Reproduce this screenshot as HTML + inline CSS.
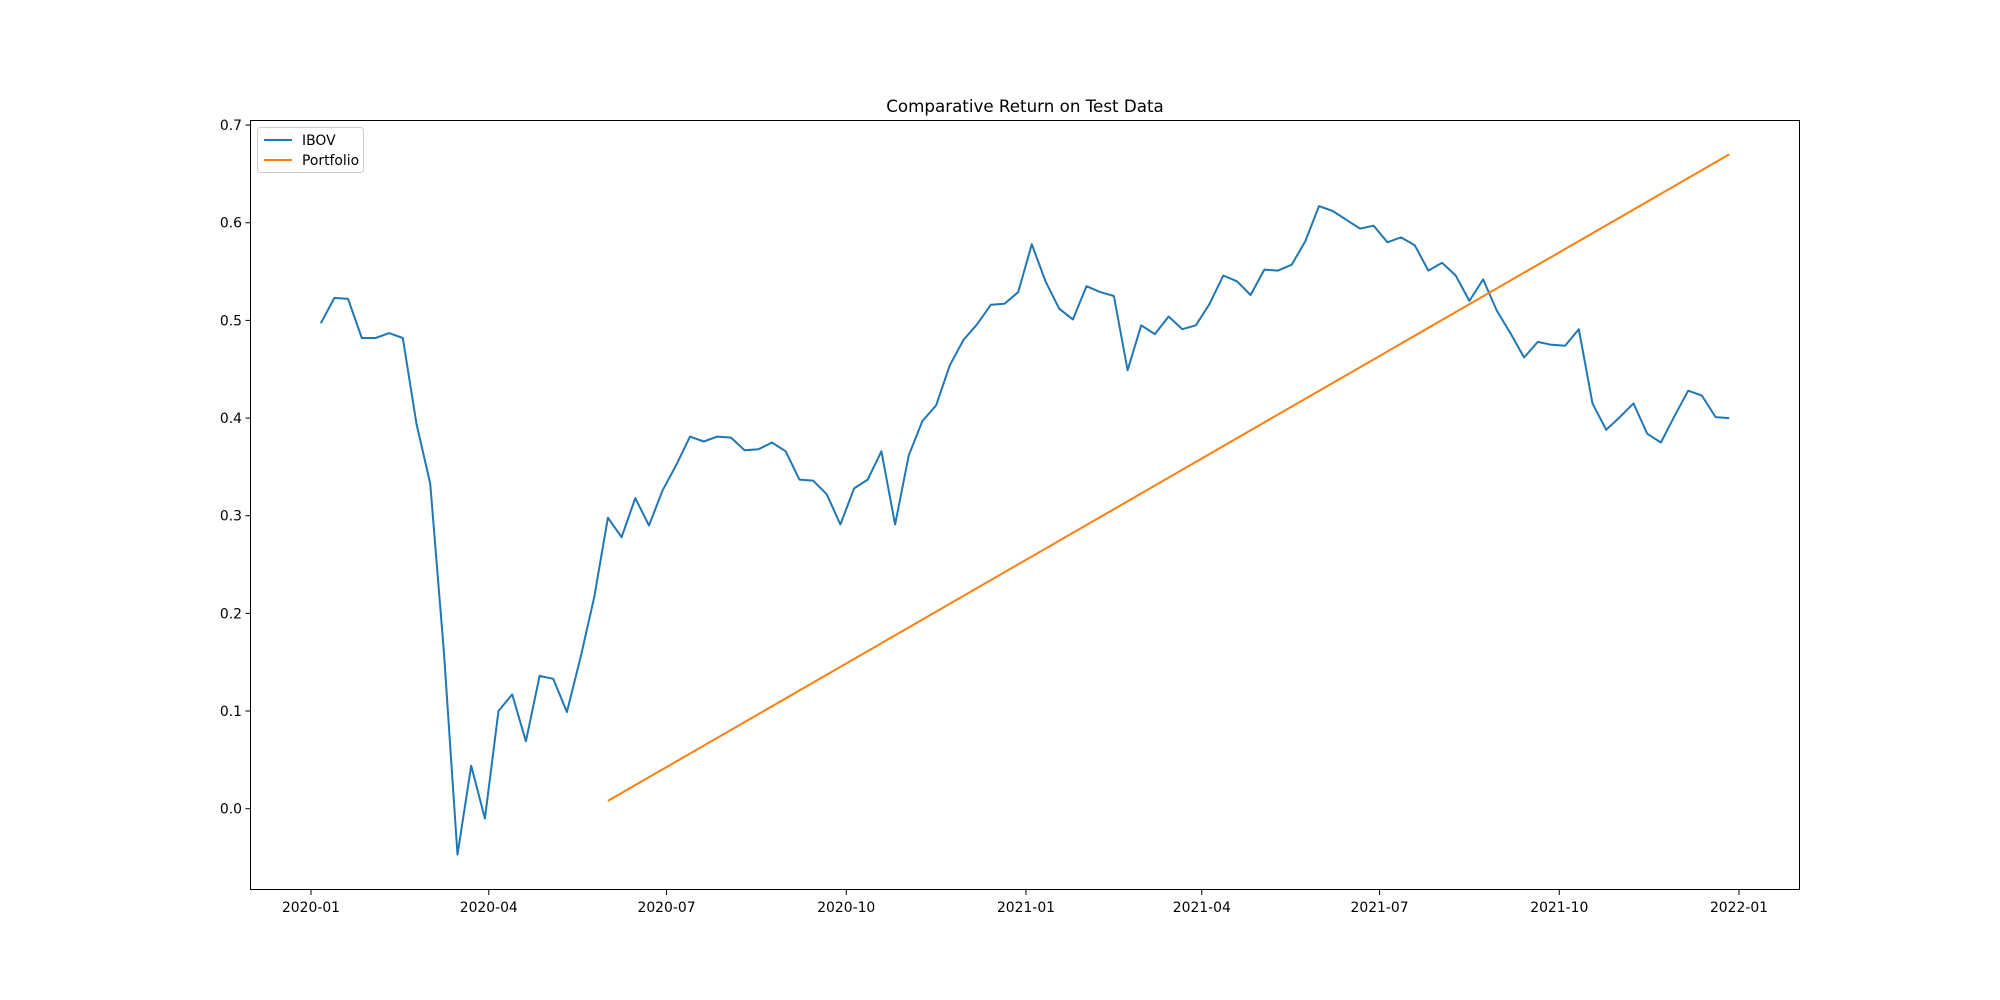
<!DOCTYPE html>
<html><head><meta charset="utf-8"><style>
body{margin:0;background:#fff}
svg{display:block;font-family:"DejaVu Sans","Liberation Sans",sans-serif}
</style></head><body>
<svg id="chart" width="2000" height="1000">
<rect width="2000" height="1000" fill="#fff"/>
<text x="1025" y="112" font-size="16.7" text-anchor="middle">Comparative Return on Test Data</text>
<g id="series"></g>
<rect x="250.5" y="120.5" width="1549" height="769" fill="none" stroke="#000" stroke-width="1"/>
<g id="axes"></g>
<g>
<rect x="257.5" y="127.5" width="106" height="45" rx="3" fill="#fff" fill-opacity="0.8" stroke="#ccc"/>
<line x1="264" y1="140" x2="292" y2="140" stroke="#1f77b4" stroke-width="2"/>
<text x="302" y="145" font-size="13.9">IBOV</text>
<line x1="264" y1="160" x2="292" y2="160" stroke="#ff7f0e" stroke-width="2"/>
<text x="302" y="165" font-size="13.9">Portfolio</text>
</g>
</svg>
<script>
const ibov=[0.497,0.523,0.522,0.482,0.482,0.487,0.482,0.394,0.333,0.162,-0.047,0.044,-0.010,0.100,0.117,0.069,0.136,0.133,0.099,0.155,0.217,0.298,0.278,0.318,0.290,0.326,0.352,0.381,0.376,0.381,0.380,0.367,0.368,0.375,0.366,0.337,0.336,0.322,0.291,0.328,0.337,0.366,0.291,0.362,0.397,0.413,0.454,0.480,0.496,0.516,0.517,0.529,0.578,0.540,0.512,0.501,0.535,0.529,0.525,0.449,0.495,0.486,0.504,0.491,0.495,0.517,0.546,0.540,0.526,0.552,0.551,0.557,0.581,0.617,0.612,0.603,0.594,0.597,0.580,0.585,0.577,0.551,0.559,0.546,0.520,0.542,0.510,0.487,0.462,0.478,0.475,0.474,0.491,0.415,0.388,0.401,0.415,0.384,0.375,0.402,0.428,0.423,0.401,0.400];
const portfolioStartIndex=21;
const portfolioEnds=[0.008,0.670];
const yTicks=[0.0,0.1,0.2,0.3,0.4,0.5,0.6,0.7];
const xTickLabels=["2020-01","2020-04","2020-07","2020-10","2021-01","2021-04","2021-07","2021-10","2022-01"];
const xTickDates=["2020-01-01","2020-04-01","2020-07-01","2020-10-01","2021-01-01","2021-04-01","2021-07-01","2021-10-01","2022-01-01"];
const startDate="2020-01-06";
const stepDays=7;
const NS="http://www.w3.org/2000/svg";
const day=864e5;
const d0=Date.parse("2020-01-01"),d1=Date.parse("2022-01-01");
function xScale(t){return 311+(t-d0)/(d1-d0)*(1739-311);}
function yScale(v){return 808.7-v*976.6;}
function dateAt(i){return Date.parse(startDate)+i*stepDays*day;}
const axes=document.getElementById('axes'),series=document.getElementById('series');
function el(tag,attrs,parent){const e=document.createElementNS(NS,tag);for(const k in attrs)e.setAttribute(k,attrs[k]);parent.appendChild(e);return e;}
yTicks.forEach(v=>{const y=yScale(v);
const l=el('line',{x1:245.5,x2:250.5,y1:y,y2:y,stroke:'#000'},axes);


const t=el('text',{x:242,y:y+5,'font-size':13.9,'text-anchor':'end'},axes);t.textContent=v.toFixed(1);

});
xTickDates.forEach((d,i)=>{const x=xScale(Date.parse(d));
const l=el('line',{x1:x,x2:x,y1:890,y2:895,stroke:'#000'},axes);


const t=el('text',{x:x,y:912,'font-size':13.9,'text-anchor':'middle'},axes);t.textContent=xTickLabels[i];

});
const p1=el('polyline',{points:ibov.map((v,i)=>xScale(dateAt(i)).toFixed(1)+','+yScale(v).toFixed(1)).join(' '),fill:'none',stroke:'#1f77b4','stroke-width':2,'stroke-linejoin':'round'},series);


const lastI=ibov.length-1;
const p2=el('polyline',{points:[[portfolioStartIndex,portfolioEnds[0]],[lastI,portfolioEnds[1]]].map(([i,v])=>xScale(dateAt(i)).toFixed(1)+','+yScale(v).toFixed(1)).join(' '),fill:'none',stroke:'#ff7f0e','stroke-width':2},series);


</script>
</body></html>
